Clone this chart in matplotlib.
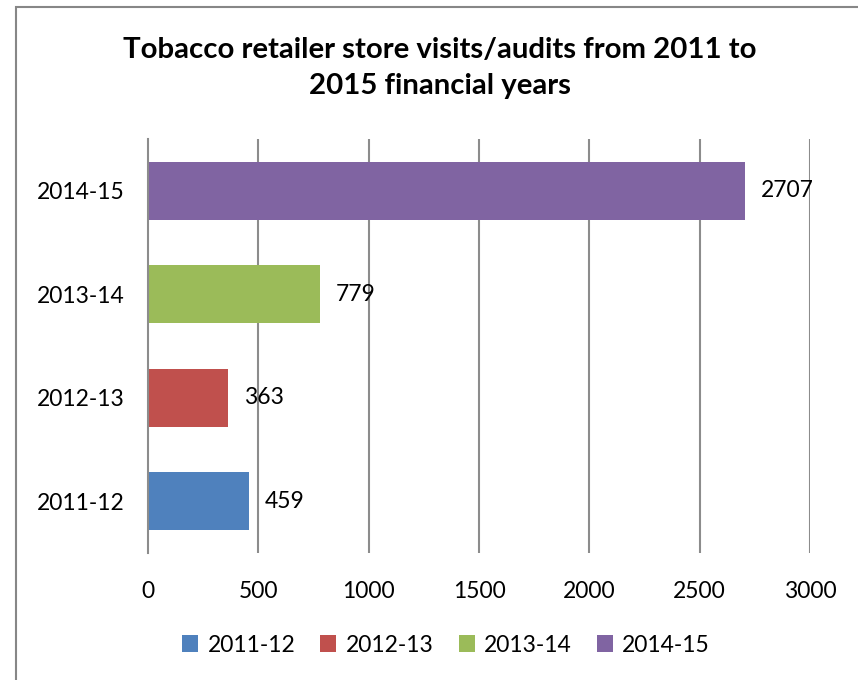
import matplotlib.pyplot as plt
from matplotlib.patches import Rectangle

plt.rcParams['font.family'] = ['Lato', 'DejaVu Sans']

years = ['2011-12', '2012-13', '2013-14', '2014-15']
visits = [459, 363, 779, 2707]
colors = ['#4F81BD', '#C0504D', '#9BBB59', '#8064A2']
xticks = [0, 500, 1000, 1500, 2000, 2500, 3000]

fig = plt.figure(figsize=(8.58, 6.8), dpi=100)
ax = fig.add_axes([148 / 858, 1 - 553 / 680, 662 / 858, 414 / 680])

# outer chart border (runs off the right and bottom edge)
fig.patches.append(Rectangle((16 / 858, -0.1), 2, (680 - 7) / 680 + 0.1,
                             transform=fig.transFigure, fill=False,
                             edgecolor='#878787', linewidth=1.5))

bars = []
for i, (y, v, c) in enumerate(zip(years, visits, colors)):
    b = ax.barh(i, v, height=0.56, color=c, label=y, zorder=2)
    bars.append(b)
    ax.text(v + 70, i, str(v), va='center', ha='left', fontsize=16.5, zorder=3)

ax.set_xlim(0, 3000)
ax.set_ylim(-0.5, 3.5)
ax.set_xticks(xticks)
ax.set_xticklabels([str(t) for t in xticks])
ax.set_yticks(range(len(years)))
ax.set_yticklabels(years)
ax.tick_params(axis='both', length=0, labelsize=16.5)
ax.tick_params(axis='x', pad=20)
ax.tick_params(axis='y', pad=17)

for t in xticks[1:]:
    ax.axvline(t, color='#8c8c8c', linewidth=1.5, zorder=1)
for s in ['top', 'right', 'bottom']:
    ax.spines[s].set_visible(False)
ax.spines['left'].set_color('#8c8c8c')
ax.spines['left'].set_linewidth(1.5)

fig.text(0.513, 1 - 68 / 680, 'Tobacco retailer store visits/audits from 2011 to\n2015 financial years',
         ha='center', va='center', fontsize=21.2, fontweight='bold', linespacing=1.5)

fig.legend(handles=[b[0] for b in bars], labels=years, loc='center',
           bbox_to_anchor=(446 / 858, 1 - 645 / 680), ncol=4, frameon=False,
           fontsize=16.5, handlelength=0.7, handleheight=0.7, handletextpad=0.4,
           columnspacing=1.1)

fig.savefig('out.png', dpi=100)
